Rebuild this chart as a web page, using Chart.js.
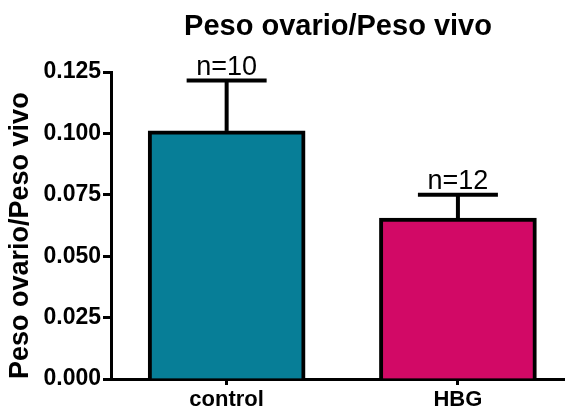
<!DOCTYPE html>
<html>
<head>
<meta charset="utf-8">
<script src="https://cdn.jsdelivr.net/npm/chart.js@4/dist/chart.umd.min.js"></script>
<style>
  html, body { margin: 0; padding: 0; background: #fff; }
  #wrap { width: 565px; height: 412px; }
</style>
</head>
<body>
<div id="wrap"><canvas id="chart" width="565" height="412"></canvas></div>
<script>
// Group labels, means, SEM and sample sizes
const categories = ['control', 'HBG'];
const means = [0.101, 0.0655];
const sem = [0.0205, 0.0095];
const sampleSizes = ['n=10', 'n=12'];
const barColors = ['#077E97', '#D20966'];
const yTicks = [0, 0.025, 0.05, 0.075, 0.1, 0.125];

const FONT = "'Liberation Sans', Arial, Helvetica, sans-serif";

// Error bars (mean + SEM) with caps, plus the n= labels above them
const errorBars = {
  id: 'errorBars',
  afterDatasetsDraw(chart) {
    const { ctx, scales: { x, y } } = chart;
    ctx.save();
    ctx.strokeStyle = '#000';
    ctx.lineWidth = 4;
    ctx.lineCap = 'butt';
    means.forEach((m, i) => {
      const px = x.getPixelForValue(i);
      const yMean = y.getPixelForValue(m);
      const yTop = y.getPixelForValue(m + sem[i]);
      ctx.beginPath();
      ctx.moveTo(px, yMean);
      ctx.lineTo(px, yTop);
      ctx.stroke();
      ctx.beginPath();
      ctx.moveTo(px - 40, yTop);
      ctx.lineTo(px + 40, yTop);
      ctx.stroke();
      ctx.fillStyle = '#000';
      ctx.font = '27px ' + FONT;
      ctx.textAlign = 'center';
      ctx.textBaseline = 'alphabetic';
      ctx.fillText(sampleSizes[i], px, yTop - 6);
    });
    ctx.restore();
  }
};

new Chart(document.getElementById('chart'), {
  type: 'bar',
  data: {
    datasets: [{
      data: means.map((v, i) => ({ x: i, y: v })),
      backgroundColor: barColors,
      borderColor: '#000',
      borderWidth: 4,
      barThickness: 157
    }]
  },
  options: {
    responsive: false,
    animation: false,
    layout: { padding: 0 },
    plugins: {
      legend: { display: false },
      tooltip: { enabled: false },
      title: {
        display: true,
        text: 'Peso ovario/Peso vivo',
        fullSize: false,
        color: '#000',
        font: { family: FONT, size: 29, weight: 'bold' },
        padding: { top: 10, bottom: 27.2 }
      }
    },
    scales: {
      x: {
        type: 'linear',
        offset: false,
        min: -0.5,
        max: 1.463,
        afterBuildTicks(scale) { scale.ticks = categories.map((c, i) => ({ value: i })); },
        afterFit(scale) { scale.height = 33; },
        ticks: {
          callback: (v) => categories[v],
          color: '#000',
          padding: 2,
          maxRotation: 0,
          font: { family: FONT, size: 22, weight: 'bold' }
        },
        grid: { offset: false, drawOnChartArea: false, drawTicks: true, tickLength: 6, tickWidth: 3, color: '#000' },
        border: { display: true, color: '#000', width: 3 }
      },
      y: {
        min: 0,
        max: 0.125,
        afterBuildTicks(scale) { scale.ticks = yTicks.map(v => ({ value: v })); },
        afterFit(scale) { scale.width = 111; },
        ticks: {
          callback: (v) => v.toFixed(3),
          color: '#000',
          padding: 2,
          font: { family: FONT, size: 23, weight: 'bold' }
        },
        grid: { drawOnChartArea: false, drawTicks: true, tickLength: 8, tickWidth: 3, color: '#000' },
        border: { display: true, color: '#000', width: 3 },
        title: {
          display: true,
          align: 'start',
          text: 'Peso ovario/Peso vivo',
          color: '#000',
          font: { family: FONT, size: 27, weight: 'bold' },
          padding: { top: 4, bottom: 0 }
        }
      }
    }
  },
  plugins: [errorBars]
});
</script>
</body>
</html>
